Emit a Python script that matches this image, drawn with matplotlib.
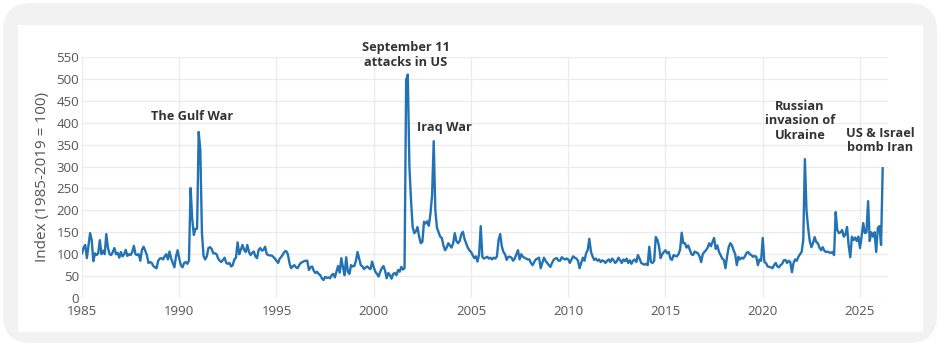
import numpy as np
import matplotlib.pyplot as plt
from matplotlib.patches import FancyBboxPatch

# monthly index values, Jan 1985 .. Mar 2026
gpr_by_year = {
    1985: [102, 115, 121, 91, 120, 148, 132, 84, 102, 98, 102, 132],
    1986: [100, 108, 100, 146, 115, 100, 98, 105, 114, 100, 103, 92],
    1987: [105, 95, 100, 110, 96, 100, 98, 105, 119, 100, 98, 100],
    1988: [85, 110, 117, 108, 98, 80, 82, 80, 73, 70, 68, 85],
    1989: [90, 91, 88, 95, 100, 88, 106, 90, 80, 70, 95, 109],
    1990: [90, 75, 70, 80, 82, 78, 85, 251, 180, 144, 158, 158],
    1991: [379, 337, 148, 96, 88, 95, 114, 116, 112, 102, 102, 100],
    1992: [90, 85, 82, 87, 92, 80, 78, 80, 72, 75, 88, 92],
    1993: [127, 100, 110, 121, 110, 105, 121, 105, 98, 103, 106, 95],
    1994: [91, 110, 114, 108, 110, 117, 100, 98, 97, 97, 94, 90],
    1995: [85, 80, 90, 94, 100, 106, 107, 100, 80, 68, 72, 75],
    1996: [70, 68, 75, 80, 82, 84, 85, 85, 64, 70, 72, 62],
    1997: [57, 60, 55, 52, 45, 41, 48, 46, 47, 45, 52, 55],
    1998: [47, 60, 73, 58, 91, 70, 52, 93, 60, 55, 75, 72],
    1999: [73, 85, 105, 90, 75, 72, 66, 70, 72, 68, 66, 83],
    2000: [70, 60, 55, 49, 60, 68, 73, 62, 45, 57, 52, 44],
    2001: [55, 57, 52, 64, 60, 71, 65, 68, 498, 510, 300, 223],
    2002: [162, 148, 152, 162, 140, 125, 128, 174, 170, 175, 165, 193],
    2003: [235, 358, 200, 160, 150, 140, 137, 120, 109, 115, 125, 120],
    2004: [115, 125, 148, 130, 125, 130, 145, 151, 135, 125, 115, 109],
    2005: [105, 98, 91, 95, 83, 100, 164, 94, 90, 92, 94, 90],
    2006: [92, 88, 92, 90, 95, 132, 146, 118, 105, 100, 87, 94],
    2007: [94, 92, 85, 90, 100, 109, 88, 100, 94, 92, 90, 88],
    2008: [88, 80, 75, 82, 88, 90, 92, 68, 80, 92, 85, 80],
    2009: [75, 71, 80, 87, 90, 91, 85, 85, 93, 90, 88, 90],
    2010: [88, 80, 88, 95, 92, 90, 85, 68, 80, 92, 85, 102],
    2011: [109, 135, 106, 95, 87, 90, 85, 88, 82, 86, 84, 80],
    2012: [85, 88, 82, 90, 86, 80, 84, 92, 86, 80, 88, 84],
    2013: [90, 80, 86, 78, 85, 88, 82, 98, 90, 80, 78, 76],
    2014: [78, 75, 117, 82, 80, 85, 139, 133, 118, 91, 100, 105],
    2015: [109, 102, 105, 90, 87, 98, 96, 95, 100, 110, 149, 125],
    2016: [125, 115, 120, 110, 100, 98, 106, 104, 102, 95, 82, 100],
    2017: [105, 109, 115, 125, 118, 128, 137, 112, 120, 105, 98, 90],
    2018: [87, 68, 95, 116, 125, 120, 109, 100, 75, 94, 88, 92],
    2019: [90, 95, 103, 105, 100, 98, 94, 96, 94, 75, 88, 85],
    2020: [137, 82, 80, 72, 71, 70, 68, 75, 80, 72, 70, 75],
    2021: [78, 86, 87, 80, 85, 82, 59, 80, 88, 85, 94, 100],
    2022: [105, 132, 317, 200, 160, 130, 116, 125, 139, 128, 125, 115],
    2023: [109, 116, 108, 105, 106, 104, 103, 105, 98, 196, 155, 148],
    2024: [150, 155, 140, 145, 162, 120, 93, 140, 132, 138, 130, 140],
    2025: [114, 140, 171, 148, 150, 221, 130, 150, 140, 150, 105, 160],
    2026: [164, 121, 296],
}

events = ["The Gulf War", "September 11\nattacks in US", "Iraq War",
          "Russian\ninvasion of\nUkraine", "US & Israel\nbomb Iran"]
event_x = [1990.66, 2001.66, 2003.66, 2021.92, 2026.03]
event_y = [415, 555, 390, 405, 359]

dates = []
values = []
for yr, vals in gpr_by_year.items():
    for i, v in enumerate(vals):
        dates.append(yr + i / 12)
        values.append(v)

plt.rcParams['font.family'] = ['Open Sans', 'DejaVu Sans']

fig = plt.figure(figsize=(9.4, 3.5), dpi=100)
fig.patch.set_facecolor('white')

W, H = 940, 350
outer = FancyBboxPatch((3 / W, 7 / H), 934 / W, 340 / H,
                       boxstyle="round,pad=0,rounding_size=0.03",
                       transform=fig.transFigure, facecolor='#f2f2f2',
                       edgecolor='none', zorder=-2, mutation_aspect=W / H)
inner = FancyBboxPatch((18 / W, 18 / H), 905 / W, 307 / H,
                       boxstyle="square,pad=0",
                       transform=fig.transFigure, facecolor='white',
                       edgecolor='none', zorder=-1)
fig.patches.extend([outer, inner])

ax = fig.add_axes([82 / W, 1 - 298 / H, 806 / W, 241 / H])
ax.set_facecolor('none')
ax.plot(dates, values, color='#2272b4', lw=1.7, zorder=3)

ax.set_xlim(1985, 2026.44)
ax.set_ylim(0, 550)
ax.set_xticks(range(1985, 2030, 5))
ax.set_yticks(range(0, 551, 50))
ax.grid(True, color='#ebebeb', lw=0.9)
ax.set_axisbelow(True)
for s in ax.spines.values():
    s.set_visible(False)
ax.tick_params(length=0, labelsize=9.5, colors='#555555', pad=2)
ax.tick_params(axis='x', pad=5)
ax.set_ylabel('Index (1985-2019 = 100)', fontsize=11, color='#555555', labelpad=5)

for txt, x, y in zip(events, event_x, event_y):
    ax.text(x, y, txt, ha='center', va='center', fontsize=9.2,
            fontweight='bold', color='#333333', linespacing=1.15,
            clip_on=False, zorder=4)

fig.savefig('out.png', dpi=100, facecolor=fig.get_facecolor())
